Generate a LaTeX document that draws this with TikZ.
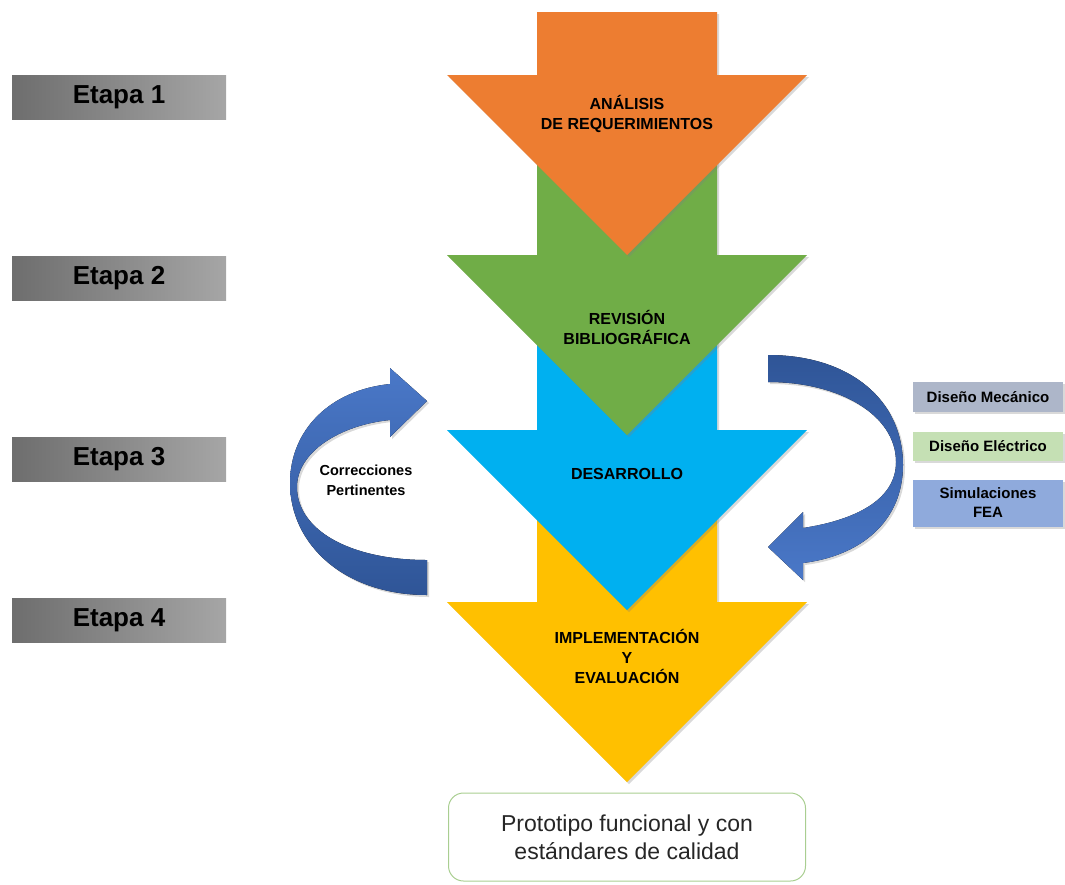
\documentclass[tikz,border=0pt]{standalone}
\usepackage{fontspec}
\setmainfont{Liberation Sans}
\usetikzlibrary{shadows}

\definecolor{naranja}{HTML}{ED7D31}
\definecolor{verde}{HTML}{70AD47}
\definecolor{celeste}{HTML}{00B0F0}
\definecolor{amarillo}{HTML}{FFC000}
\definecolor{azulclaro}{HTML}{4A78C8}
\definecolor{azuloscuro}{HTML}{2F5597}
\definecolor{grismec}{HTML}{ADB6C9}
\definecolor{verdeelec}{HTML}{C5E0B4}
\definecolor{azulfea}{HTML}{8FAADC}

% flecha vertical: color, inicio del cuerpo, inicio de la punta
\newcommand{\flechaabajo}[3]{%
  \fill[#1,sombra] (537,#2) -- (717,#2) -- (717,#3) -- (807,#3) -- (627,{#3+180}) -- (447,#3) -- (537,#3) -- cycle;}

\tikzset{
  sombra/.style={drop shadow={opacity=0.3,shadow xshift=2pt,shadow yshift=-2pt}},
  etapa/.style={left color=black!57,right color=black!35,minimum width=214pt,minimum height=44pt,
    inner sep=0pt,font=\fontsize{26}{28}\selectfont\bfseries},
  txtflecha/.style={align=center,font=\fontsize{16}{20}\selectfont\bfseries},
  caja/.style={minimum width=150pt,inner sep=0pt,align=center,sombra,
    font=\fontsize{15}{19}\selectfont\bfseries},
}

\begin{document}
\begin{tikzpicture}[x=1pt,y=-1pt]
\useasboundingbox (0,0) rectangle (1065,884);

% flechas principales (de abajo hacia arriba)
\flechaabajo{amarillo}{500}{602}
\flechaabajo{celeste}{330}{430}
\flechaabajo{verde}{150}{255}
\flechaabajo{naranja}{12}{75}

\node[txtflecha] (analisis) at (627,114) {ANÁLISIS\\DE REQUERIMIENTOS};
\node[txtflecha] (revision) at (627,327) {REVISIÓN\\BIBLIOGRÁFICA};
\node[txtflecha] (desarrollo) at (627,474) {DESARROLLO};
\node[txtflecha] (implementacion) at (627,656) {IMPLEMENTACIÓN\\Y\\EVALUACIÓN};

% etapas
\node[etapa] (etapa1) at (119,97) {Etapa 1};
\node[etapa] (etapa2) at (119,278) {Etapa 2};
\node[etapa] (etapa3) at (119,459) {Etapa 3};
\node[etapa] (etapa4) at (119,620) {Etapa 4};

% flecha curva izquierda
\fill[top color=azulclaro,bottom color=azuloscuro,sombra]
  (427,595) .. controls (345,595) and (290,545) .. (290,483)
  .. controls (290,430) and (330,390) .. (390,384)
  -- (390,368) -- (427,401) -- (390,437) -- (390,420)
  .. controls (340,425) and (297,452) .. (297,487)
  .. controls (297,530) and (350,560) .. (427,560) -- cycle;
\node[align=center,font=\fontsize{14.5}{20}\selectfont\bfseries] (correcciones) at (366,480) {Correcciones\\Pertinentes};

% flecha curva derecha
\fill[top color=azuloscuro,bottom color=azulclaro,sombra]
  (768,355) .. controls (850,355) and (903,400) .. (903,465)
  .. controls (903,522) and (860,556) .. (803,563)
  -- (803,580) -- (768,547) -- (803,512) -- (803,528)
  .. controls (855,520) and (896,500) .. (896,462)
  .. controls (896,415) and (840,382) .. (768,382) -- cycle;

% cajas de desarrollo
\node[caja,fill=grismec,minimum height=30pt] (mecanico) at (988,397) {Diseño Mecánico};
\node[caja,fill=verdeelec,minimum height=29pt] (electrico) at (988,446) {Diseño Eléctrico};
\node[caja,fill=azulfea,minimum height=47pt] (fea) at (988,503) {Simulaciones\\FEA};

% resultado
\node[draw=verde!60,line width=1pt,rounded corners=15pt,minimum width=357pt,minimum height=88pt,
  align=center,text=black!85,font=\fontsize{23}{28}\selectfont] (prototipo) at (627,837)
  {Prototipo funcional y con\\estándares de calidad};
\end{tikzpicture}
\end{document}
